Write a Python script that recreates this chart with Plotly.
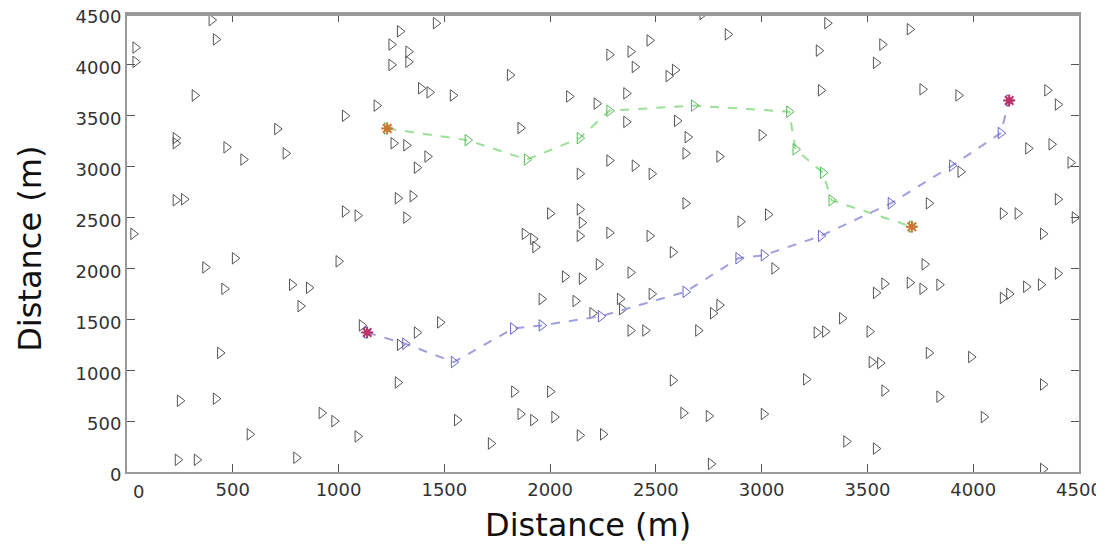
import plotly.graph_objects as go

# Sensor nodes (triangles)
node_x = [40, 40, 400, 420, 320, 1250, 1290, 1330, 1250, 1330, 1460, 1390, 1430, 1540, 1030, 1180,
          1810, 2090, 2220, 2360, 2280, 2380, 2470, 2400, 2560, 2590, 2720, 2840, 3270, 3310, 3570,
          3540, 3700, 3280, 3760, 3930, 4350, 4400,
          230, 230, 470, 550, 710, 750, 1260, 1320, 1370, 1420, 1860, 2140, 2280, 2360, 2400, 2480,
          2600, 2650, 2640, 2800, 3000, 4260, 4370, 4460, 3940,
          230, 270, 1030, 1090, 1280, 1350, 1320, 2000, 2140, 2150, 2640, 2900, 3030, 3790, 4140,
          4210, 4330, 4400, 4480,
          30, 370, 510, 1000, 1880, 1920, 1930, 2140, 2280, 2470, 2580, 3060, 3770, 4400,
          460, 780, 860, 820, 1960, 2070, 2120, 2150, 2200, 2230, 2330, 2340, 2380, 2480, 2770,
          2800, 3540, 3580, 3700, 3760, 3840, 4140, 4170, 4250, 4320,
          1110, 1290, 1370, 1480, 2380, 2450, 2700, 3300, 3260, 3380, 3510, 3520, 3560, 3790, 3990,
          440, 1280,
          250, 240, 330, 420, 580, 800, 920, 980, 1090, 1560, 1720, 1830, 1860, 1920, 2000, 2020,
          2140, 2250, 2580, 2630, 2750, 2760, 3010, 3210, 3400, 3540, 3580, 3840, 4050, 4330, 4330]
node_y = [4170, 4030, 4440, 4250, 3700, 4200, 4330, 4130, 4000, 4030, 4410, 3770, 3730, 3700, 3500, 3600,
          3900, 3690, 3620, 3720, 4100, 4130, 4240, 3980, 3890, 3950, 4500, 4300, 4140, 4410, 4200,
          4020, 4350, 3750, 3760, 3700, 3750, 3610,
          3280, 3230, 3190, 3070, 3370, 3130, 3230, 3210, 2990, 3100, 3380, 2930, 3060, 3440, 3010, 2930,
          3450, 3290, 3130, 3100, 3310, 3180, 3220, 3040, 2950,
          2670, 2680, 2560, 2520, 2690, 2710, 2500, 2540, 2580, 2450, 2640, 2460, 2530, 2640, 2540,
          2540, 2340, 2680, 2500,
          2340, 2010, 2100, 2070, 2340, 2290, 2210, 2320, 2350, 2320, 2160, 2000, 2040, 1950,
          1800, 1840, 1810, 1630, 1700, 1920, 1680, 1900, 1560, 2040, 1700, 1600, 1960, 1750, 1560,
          1640, 1760, 1850, 1860, 1800, 1840, 1710, 1750, 1820, 1840,
          1440, 1250, 1370, 1470, 1390, 1390, 1390, 1380, 1370, 1510, 1380, 1080, 1070, 1170, 1130,
          1170, 880,
          700, 120, 120, 720, 370, 140, 580, 500, 350, 510, 280, 790, 570, 510, 790, 540,
          360, 370, 900, 580, 550, 80, 570, 910, 300, 230, 800, 740, 540, 860, 30]

# Route 1 (green)
green_x = [1230, 1610, 1890, 2140, 2280, 2680, 3130, 3160, 3290, 3330, 3710]
green_y = [3375, 3260, 3070, 3280, 3550, 3600, 3540, 3170, 2940, 2670, 2410]

# Route 2 (blue)
blue_x = [1135, 1315, 1545, 1825, 1960, 2240, 2640, 2890, 3010, 3280, 3610, 3900, 4130, 4170]
blue_y = [1370, 1260, 1080, 1410, 1440, 1530, 1770, 2100, 2130, 2320, 2640, 3010, 3330, 3650]

tick_vals = [0, 500, 1000, 1500, 2000, 2500, 3000, 3500, 4000, 4500]
x_tick_text = ["", "500", "1000", "1500", "2000", "2500", "3000", "3500", "4000", "4500"]
y_tick_text = ["0", "500", "1000", "1500", "2000", "2500", "3000", "3500", "4000", "4500"]
axis_title = "Distance (m)"

fig = go.Figure()
fig.add_trace(go.Scatter(x=node_x, y=node_y, mode="markers",
                         marker=dict(symbol="triangle-right-open", size=10,
                                     color="#555555", line=dict(width=1)),
                         showlegend=False))
fig.add_trace(go.Scatter(x=green_x, y=green_y, mode="lines+markers",
                         line=dict(color="#99e099", width=2, dash="dash"),
                         marker=dict(symbol="triangle-right-open", size=10, color="#55bb55",
                                     line=dict(width=1)),
                         showlegend=False))
fig.add_trace(go.Scatter(x=blue_x, y=blue_y, mode="lines+markers",
                         line=dict(color="#a0a0e0", width=2, dash="dash"),
                         marker=dict(symbol="triangle-right-open", size=10, color="#6666cc",
                                     line=dict(width=1)),
                         showlegend=False))
# start / end stars
fig.add_trace(go.Scatter(x=[green_x[0], green_x[-1]], y=[green_y[0], green_y[-1]], mode="markers",
                         marker=dict(symbol="asterisk-open", size=10, color="#cc7733",
                                     line=dict(width=2, color="#cc7733")),
                         showlegend=False))
fig.add_trace(go.Scatter(x=[blue_x[0], blue_x[-1]], y=[blue_y[0], blue_y[-1]], mode="markers",
                         marker=dict(symbol="asterisk-open", size=10, color="#bb3366",
                                     line=dict(width=2, color="#bb3366")),
                         showlegend=False))

tick_font = dict(family="DejaVu Sans", size=18, color="#333333")
axis_common = dict(range=[0, 4500], tickvals=tick_vals,
                   ticks="inside", ticklen=8, tickcolor="#555555", tickwidth=1,
                   showline=True, linecolor="#999999", linewidth=2, mirror="ticks",
                   showgrid=False, zeroline=False, automargin=False,
                   ticklabeloverflow="allow", tickfont=tick_font)

title_font = dict(family="DejaVu Sans", size=32, color="#111111")

fig.update_layout(
    width=1096, height=536,
    margin=dict(l=119, r=25, t=6, b=72),
    paper_bgcolor="white", plot_bgcolor="white",
    xaxis=dict(**axis_common, ticktext=x_tick_text),
    yaxis=dict(**axis_common, ticktext=y_tick_text, ticklabelshift=3),
    annotations=[
        dict(text=axis_title, xref="paper", yref="paper", x=0.484, y=-0.116,
             xanchor="center", yanchor="middle", showarrow=False, font=title_font),
        dict(text=axis_title, xref="paper", yref="paper", x=-0.102, y=0.487,
             xanchor="center", yanchor="middle", showarrow=False, textangle=-90, font=title_font),
        dict(text="0", xref="x", yref="paper", x=0, y=0, xshift=11, yshift=-7,
             xanchor="center", yanchor="top", showarrow=False, font=tick_font),
    ],
    shapes=[dict(type="line", xref="paper", yref="paper", x0=0, x1=1, y0=1, y1=1,
                 line=dict(color="#999999", width=4))],
)

fig.write_html("out.html")
